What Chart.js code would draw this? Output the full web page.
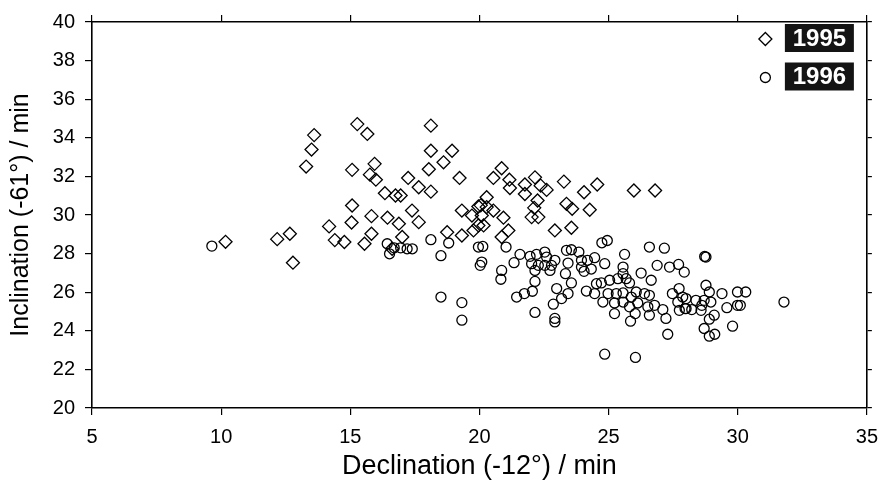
<!DOCTYPE html>
<html><head><meta charset="utf-8">
<script src="https://cdn.jsdelivr.net/npm/chart.js@4/dist/chart.umd.min.js"></script>
<style>html,body{margin:0;padding:0;background:#fff}#wrap{width:888px;height:488px}</style>
</head><body><div id="wrap"><canvas id="c" width="888" height="488"></canvas></div>
<script>
const seriesNames = ["1995", "1996"];
const xTitle = "Declination (-12°) / min";
const yTitle = "Inclination (-61°) / min";
const xTicks = [5, 10, 15, 20, 25, 30, 35];
const yTicks = [20, 22, 24, 26, 28, 30, 32, 34, 36, 38, 40];

const dec1995 = [10.17,12.17,12.66,12.78,13.29,13.50,13.60,14.18,14.40,14.77,15.05,15.07,15.07,15.27,15.55,15.66,15.76,15.82,15.82,15.94,15.99,16.34,16.44,16.62,16.75,16.95,16.88,17.01,17.24,17.39,17.65,17.65,18.04,18.12,18.12,18.12,18.61,18.75,18.94,19.23,19.32,19.32,19.71,19.77,19.96,19.96,20.05,20.09,20.16,20.28,20.28,20.54,20.54,20.86,20.86,20.93,21.12,21.16,21.18,21.76,21.76,22.02,22.12,22.15,22.25,22.28,22.37,22.60,22.92,23.27,23.37,23.56,23.59,24.05,24.27,24.56,25.98,26.80];
const inc1995 = [28.61,28.75,29.03,27.53,32.51,33.39,34.14,29.41,28.70,28.60,29.61,30.49,32.34,34.71,28.51,34.20,32.09,29.94,29.03,32.65,31.83,31.13,29.86,28.25,31.01,31.01,29.55,28.86,31.92,30.23,31.44,29.63,32.37,34.63,33.33,31.21,32.73,29.11,33.33,31.92,30.23,28.94,29.97,29.20,30.44,29.46,30.50,29.97,29.46,30.92,30.41,31.92,30.23,32.42,28.86,29.86,29.20,31.83,31.40,31.58,31.09,29.89,30.37,31.95,30.75,29.89,31.52,31.30,29.20,31.73,30.58,29.34,30.32,31.18,30.27,31.58,31.27,31.27];

const dec1996 = [9.64,16.43,16.52,16.70,16.95,17.20,17.40,18.12,18.51,18.81,18.51,19.32,19.32,19.96,20.13,20.09,20.03,20.86,20.83,21.03,21.34,21.44,21.57,21.74,21.96,22.02,22.05,22.15,22.15,22.15,22.21,22.28,22.53,22.53,22.60,22.73,22.79,22.86,22.92,22.92,22.92,22.99,23.18,23.33,23.37,23.43,23.43,23.56,23.56,23.85,23.95,24.18,24.46,24.85,24.33,24.05,23.95,24.14,24.53,24.46,24.72,24.74,24.95,24.78,24.98,25.04,25.23,25.23,25.30,25.36,25.56,25.56,25.56,25.56,25.62,25.68,25.81,25.81,25.85,25.88,26.03,26.04,24.85,26.07,26.13,26.26,26.39,26.52,26.58,26.58,26.58,26.65,26.78,26.88,27.10,27.16,27.22,27.29,27.36,27.47,27.68,27.71,27.73,27.87,27.93,27.96,27.74,28.00,28.00,28.22,28.38,28.58,28.61,28.70,28.70,28.77,28.72,28.77,28.90,28.90,28.90,28.96,29.09,29.11,29.39,29.58,29.80,29.99,29.99,30.10,30.31,31.79];
const inc1996 = [28.39,28.51,27.99,28.30,28.30,28.25,28.25,28.72,27.89,28.55,25.75,25.46,24.55,28.34,28.37,27.56,27.39,27.13,26.67,28.34,27.53,25.75,27.96,25.93,27.86,27.48,26.05,27.13,26.56,24.95,27.96,27.39,28.08,27.39,27.82,27.13,27.39,25.38,27.65,24.64,24.46,26.19,25.67,26.96,28.17,27.51,25.93,28.20,26.48,28.08,27.65,27.65,27.79,27.48,27.20,27.08,27.30,26.06,26.44,25.93,26.48,28.56,28.68,25.49,25.93,26.62,25.44,24.89,25.93,26.70,27.30,26.96,25.96,25.49,27.96,26.70,26.48,25.24,24.50,25.75,24.89,22.62,22.79,26.01,25.44,26.99,25.93,25.24,28.34,25.84,24.81,26.62,25.32,27.39,25.10,28.28,24.64,23.82,27.30,25.93,25.49,27.44,26.19,25.75,27.04,25.15,25.06,25.67,25.15,25.10,25.58,25.06,25.32,25.58,24.12,27.82,27.85,26.36,26.01,24.60,23.72,25.49,24.81,23.82,25.93,25.20,24.24,26.01,25.32,25.32,26.01,25.49];

function pts(xs, ys){ return xs.map((x,i)=>({x:x, y:ys[i]})); }

const FONT = "'Liberation Sans', Arial, Helvetica, sans-serif";

const legendPlugin = {
  id: 'boxLegend',
  afterDraw(chart){
    const ctx = chart.ctx, a = chart.chartArea;
    const items = [{name: seriesNames[0], style:'diamond'}, {name: seriesNames[1], style:'circle'}];
    items.forEach((it, i) => {
      const boxL = a.right - 82, boxW = 69, boxH = 28;
      const boxT = a.top + 2 + i*38.5;
      ctx.save();
      ctx.fillStyle = '#141414';
      ctx.fillRect(boxL, boxT, boxW, boxH);
      ctx.fillStyle = '#fff';
      ctx.font = "bold 24px " + FONT;
      ctx.textAlign = 'center';
      ctx.textBaseline = 'middle';
      ctx.fillText(it.name, boxL + boxW/2, boxT + boxH/2 + 1);
      const mx = boxL - 19.5, my = boxT + boxH/2 + 1;
      ctx.strokeStyle = '#000';
      ctx.lineWidth = 1.3;
      ctx.beginPath();
      if (it.style === 'diamond') {
        const r = 6.5;
        ctx.moveTo(mx, my-r); ctx.lineTo(mx+r, my); ctx.lineTo(mx, my+r); ctx.lineTo(mx-r, my); ctx.closePath();
      } else {
        ctx.arc(mx, my, 5, 0, Math.PI*2);
      }
      ctx.stroke();
      ctx.restore();
    });
  }
};

const baseGrid = {drawOnChartArea:false, drawTicks:true, tickLength:7, color:'#000', lineWidth:1.2};
const baseBorder = {display:true, color:'#000', width:1.6};

new Chart(document.getElementById('c'), {
  type: 'scatter',
  data: {
    datasets: [
      {label: seriesNames[0], data: pts(dec1995, inc1995), pointStyle:'rectRot', pointRadius:6.5, borderColor:'#000', backgroundColor:'rgba(0,0,0,0)', pointBorderWidth:1.3, xAxisID:'x', yAxisID:'y'},
      {label: seriesNames[1], data: pts(dec1996, inc1996), pointStyle:'circle', pointRadius:5, borderColor:'#000', backgroundColor:'rgba(0,0,0,0)', pointBorderWidth:1.3, xAxisID:'x', yAxisID:'y'}
    ]
  },
  options: {
    responsive:false, animation:false, events:[],
    layout:{padding:0},
    plugins:{legend:{display:false}, tooltip:{enabled:false}},
    scales:{
      x:{type:'linear', position:'bottom', min:5, max:35,
         afterBuildTicks(s){ s.ticks = xTicks.map(v=>({value:v})); },
         afterFit(s){ s.height = 80; },
         grid:baseGrid, border:baseBorder,
         ticks:{color:'#000', padding:10, font:{family:FONT, size:20}},
         title:{display:true, text:xTitle, color:'#000', font:{family:FONT, size:27}, padding:{top:0,bottom:5}}},
      y:{type:'linear', position:'left', min:20, max:40,
         afterBuildTicks(s){ s.ticks = yTicks.map(v=>({value:v})); },
         afterFit(s){ s.width = 92; },
         grid:baseGrid, border:baseBorder,
         ticks:{color:'#000', padding:10, font:{family:FONT, size:20}},
         title:{display:true, text:yTitle, color:'#000', font:{family:FONT, size:25}, padding:{top:6,bottom:0}}},
      x2:{type:'linear', position:'top', min:5, max:35,
         afterBuildTicks(s){ s.ticks = xTicks.map(v=>({value:v})); },
         afterFit(s){ s.height = 21; },
         grid:baseGrid, border:baseBorder, ticks:{display:false}},
      y2:{type:'linear', position:'right', min:20, max:40,
         afterBuildTicks(s){ s.ticks = yTicks.map(v=>({value:v})); },
         afterFit(s){ s.width = 18; },
         grid:{...baseGrid, tickLength:5}, border:baseBorder, ticks:{display:false}}
    }
  },
  plugins:[legendPlugin]
});
</script></body></html>
